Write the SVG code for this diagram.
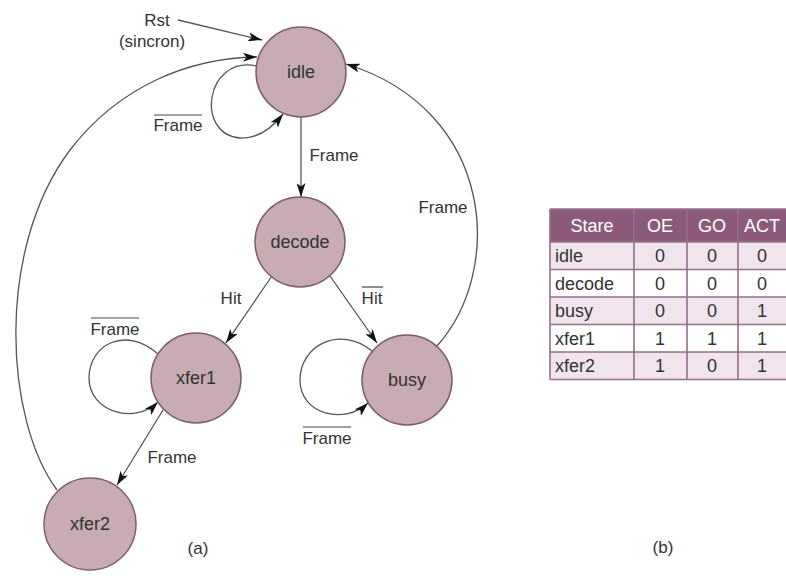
<svg xmlns="http://www.w3.org/2000/svg" width="786" height="583" viewBox="0 0 786 583">
<style>
  .node circle { fill: #c8abb3; stroke: #7e5f68; stroke-width: 1.5; }
  .node text { font-family: "Liberation Sans", Arial, sans-serif; font-size: 18px; fill: #333; text-anchor: middle; }
  .lbl { font-family: "Liberation Sans", Arial, sans-serif; font-size: 17px; fill: #333; text-anchor: middle; }
  .edge { fill: none; stroke: #555; stroke-width: 1.3; }
  .ov { stroke: #444; stroke-width: 1.2; }
  .tbl text { font-family: "Liberation Sans", Arial, sans-serif; font-size: 18px; fill: #333; }
  .hdr { fill: #8c5b7c; }
  .pink { fill: #f1e4ec; }
  .white { fill: #ffffff; }
  .grid { stroke: #94708a; stroke-width: 1.6; fill: none; }
</style>
<defs>
  <marker id="ah" viewBox="0 0 14 9" refX="14" refY="4.5" markerWidth="14" markerHeight="9" markerUnits="userSpaceOnUse" orient="auto">
    <path d="M0,0 L14,4.5 L0,9 L3.5,4.5 Z" fill="#111"/>
  </marker>
</defs>
<rect width="786" height="583" fill="#fff"/>

<g id="connectors">
  <path class="edge" d="M178,20 L262,40" marker-end="url(#ah)"/>
  <path class="edge" d="M57,490 C5,420 -5,250 70,150 C120,85 190,58 257,57" marker-end="url(#ah)"/>
  <path class="edge" d="M257,66 C205,55 195,135 240,138 C258,139 272,128 283,114" marker-end="url(#ah)"/>
  <path class="edge" d="M301,117 L301,197" marker-end="url(#ah)"/>
  <path class="edge" d="M272,276 L226,343" marker-end="url(#ah)"/>
  <path class="edge" d="M330,276 L377,343" marker-end="url(#ah)"/>
  <path class="edge" d="M372,351 C340,325 300,345 300,380 C300,415 345,425 368,403" marker-end="url(#ah)"/>
  <path class="edge" d="M437,346 C505,270 495,110 346,64" marker-end="url(#ah)"/>
  <path class="edge" d="M158,354 C125,325 89,345 89,378 C89,412 135,425 158,402" marker-end="url(#ah)"/>
  <path class="edge" d="M163,410 L117,485" marker-end="url(#ah)"/>

  <text class="lbl" x="157" y="26">Rst</text>
  <text class="lbl" x="152" y="47">(sincron)</text>
  <text class="lbl" x="178" y="131">Frame</text>
  <line class="ov" x1="154" y1="115" x2="202" y2="115"/>
  <text class="lbl" x="334" y="161">Frame</text>
  <text class="lbl" x="443" y="213">Frame</text>
  <text class="lbl" x="231" y="304">Hit</text>
  <text class="lbl" x="372" y="304">Hit</text>
  <line class="ov" x1="362" y1="287" x2="383" y2="287"/>
  <text class="lbl" x="115" y="335">Frame</text>
  <line class="ov" x1="91" y1="318" x2="139" y2="318"/>
  <text class="lbl" x="327" y="444">Frame</text>
  <line class="ov" x1="303" y1="427" x2="351" y2="427"/>
  <text class="lbl" x="172" y="463">Frame</text>
</g>

<g id="idle" class="node"><circle cx="301" cy="72" r="45"/><text x="301" y="78">idle</text></g>
<g id="decode" class="node"><circle cx="300" cy="242" r="45"/><text x="300" y="248">decode</text></g>
<g id="xfer1" class="node"><circle cx="196" cy="378" r="45"/><text x="196" y="384">xfer1</text></g>
<g id="busy" class="node"><circle cx="407" cy="380" r="45"/><text x="407" y="386">busy</text></g>
<g id="xfer2" class="node"><circle cx="90" cy="524" r="46"/><text x="90" y="530">xfer2</text></g>

<text class="lbl" x="198" y="554">(a)</text>
<text class="lbl" x="663" y="553">(b)</text>

<g id="table" class="tbl">
  <rect class="hdr" x="550" y="209" width="240" height="33"/>
  <rect class="pink" x="550" y="242" width="240" height="27.5"/>
  <rect class="white" x="550" y="269.5" width="240" height="27.5"/>
  <rect class="pink" x="550" y="297" width="240" height="27.5"/>
  <rect class="white" x="550" y="324.5" width="240" height="27.5"/>
  <rect class="pink" x="550" y="352" width="240" height="27.5"/>
  <path class="grid" d="M550,209 H790 M550,242 H790 M550,269.5 H790 M550,297 H790 M550,324.5 H790 M550,352 H790 M550,379.5 H790 M550,209 V379.5 M634,209 V379.5 M687,209 V379.5 M738,209 V379.5"/>
  <g text-anchor="middle">
    <text x="592" y="232" style="fill:#fff">Stare</text>
    <text x="660" y="232" style="fill:#fff">OE</text>
    <text x="712" y="232" style="fill:#fff">GO</text>
    <text x="762" y="232" style="fill:#fff">ACT</text>
  </g>
  <g>
    <text x="555" y="262">idle</text>
    <text x="555" y="290">decode</text>
    <text x="555" y="317">busy</text>
    <text x="555" y="345">xfer1</text>
    <text x="555" y="372">xfer2</text>
  </g>
  <g text-anchor="middle">
    <text x="660" y="262">0</text><text x="712" y="262">0</text><text x="762" y="262">0</text>
    <text x="660" y="290">0</text><text x="712" y="290">0</text><text x="762" y="290">0</text>
    <text x="660" y="317">0</text><text x="712" y="317">0</text><text x="762" y="317">1</text>
    <text x="660" y="345">1</text><text x="712" y="345">1</text><text x="762" y="345">1</text>
    <text x="660" y="372">1</text><text x="712" y="372">0</text><text x="762" y="372">1</text>
  </g>
</g>
</svg>
